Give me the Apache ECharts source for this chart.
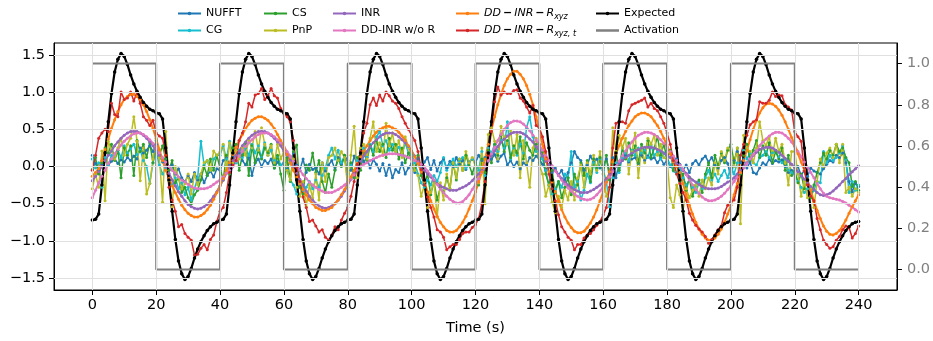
<!DOCTYPE html>
<html><head><meta charset="utf-8">
<script src="https://cdn.jsdelivr.net/npm/echarts@6/dist/echarts.min.js"></script>
<style>html,body{margin:0;padding:0;background:#fff}#c{width:933px;height:341px}</style>
</head><body><div id="c"></div><script>
// time axis: one sample per second, 0..240 s
const seconds = Array.from({length: 241}, (_, i) => i);
const xTicks = [0,20,40,60,80,100,120,140,160,180,200,220,240];
const leftTicks = [-1.5,-1.0,-0.5,0.0,0.5,1.0,1.5];
const rightTicks = [0.0,0.2,0.4,0.6,0.8,1.0];

const nufft = [
0.15,0.04,-0.05,0.03,0.08,0.02,0.07,0.10,0.04,0.09,
0.06,0.12,0.08,0.14,0.10,0.25,0.18,0.22,0.28,0.20,
0.30,0.15,0.06,0.10,-0.05,0.02,-0.10,-0.03,-0.15,-0.21,
-0.12,-0.20,-0.08,-0.18,-0.10,-0.22,-0.12,-0.06,-0.14,-0.03,
-0.05,0.08,0.12,0.02,0.15,0.05,0.18,0.08,0.02,0.12,
-0.12,0.05,0.10,0.00,0.08,0.04,0.10,-0.02,0.06,0.01,
0.05,-0.03,0.08,0.18,0.02,-0.05,0.10,-0.08,0.03,-0.04,
-0.02,-0.10,0.05,-0.06,0.02,0.08,-0.04,0.12,0.03,0.15,
0.08,-0.05,0.14,0.02,0.20,0.06,0.12,-0.02,0.09,0.03,
-0.06,0.04,-0.12,0.02,-0.15,-0.04,-0.08,0.05,-0.10,-0.02,
0.04,-0.08,0.10,-0.02,0.06,0.12,-0.04,0.08,-0.06,0.05,
0.10,-0.02,0.07,0.00,0.12,0.03,0.08,-0.04,0.06,0.10,
0.05,0.15,0.08,0.12,0.20,0.10,0.16,0.07,0.14,0.18,
0.02,0.08,0.00,0.06,-0.03,0.05,0.02,0.12,0.08,0.14,
0.10,0.03,-0.05,0.02,-0.08,-0.02,-0.12,-0.05,-0.18,-0.08,
0.05,0.20,0.12,0.08,-0.05,0.02,0.14,0.06,0.10,-0.02,
0.02,0.10,-0.08,0.12,-0.15,0.05,0.08,0.15,0.06,0.10,
0.12,0.04,0.15,0.08,0.14,0.10,0.12,0.05,0.11,0.03,
0.08,0.00,0.06,0.10,0.03,-0.05,0.02,-0.08,0.04,0.08,
0.02,0.10,0.14,0.06,0.12,0.02,-0.02,0.08,0.12,0.04,
-0.15,0.08,0.20,0.05,0.10,-0.02,0.06,-0.08,-0.10,-0.02,
0.05,0.02,0.10,0.04,0.08,0.06,0.09,0.00,-0.08,-0.05,
-0.10,0.00,-0.12,-0.05,-0.13,-0.02,-0.06,-0.08,-0.10,-0.03,
0.03,0.08,0.06,0.15,0.12,0.18,0.05,-0.20,-0.34,-0.22,-0.27];

const cg = [
0.10,-0.02,0.05,-0.28,0.12,0.02,0.15,0.10,0.22,0.12,
0.28,0.18,0.24,0.30,0.16,0.22,0.08,0.00,-0.23,0.05,
0.20,0.02,-0.10,-0.02,-0.18,-0.25,-0.15,-0.30,-0.22,-0.38,
-0.28,-0.45,-0.30,-0.15,0.34,0.02,0.08,-0.05,0.10,0.15,
0.15,0.28,0.10,0.34,0.18,0.05,0.22,0.12,0.25,0.15,
0.30,0.18,0.28,0.12,0.32,0.15,0.22,0.08,0.14,0.02,
0.05,-0.05,-0.18,-0.25,-0.37,-0.22,-0.32,-0.28,-0.20,-0.30,
-0.18,-0.28,-0.12,-0.02,0.15,0.25,0.10,0.22,0.05,0.12,
-0.10,0.02,-0.15,0.08,0.18,0.25,0.12,0.30,0.20,0.40,
0.47,0.28,0.35,0.22,0.30,0.20,0.26,0.15,0.32,0.18,
0.16,0.05,-0.10,-0.22,-0.28,-0.18,-0.25,-0.12,-0.20,-0.08,
0.12,-0.05,0.02,0.10,0.00,0.08,0.12,-0.02,0.05,0.10,
0.05,-0.05,0.20,-0.12,0.25,0.18,0.30,0.20,0.35,0.25,
0.60,0.10,0.25,0.15,0.30,0.18,0.52,0.67,0.40,0.20,
0.30,0.10,-0.05,-0.25,-0.37,-0.30,-0.20,-0.28,-0.10,-0.15,
0.20,-0.28,-0.20,-0.45,-0.32,-0.10,-0.22,0.05,-0.08,0.10,
-0.05,-0.20,-0.54,-0.15,0.05,-0.08,0.12,0.18,0.08,0.22,
0.15,0.25,0.18,0.22,0.12,0.28,0.15,0.20,0.10,0.18,
0.12,0.02,-0.06,-0.10,-0.02,-0.15,-0.25,-0.18,-0.28,-0.35,
-0.22,-0.30,-0.15,-0.05,-0.18,-0.10,-0.20,-0.12,-0.05,-0.15,
0.00,-0.10,0.05,0.15,0.22,0.10,0.18,0.05,0.02,0.12,
0.15,0.20,0.12,0.18,0.22,0.12,0.05,0.10,-0.05,-0.08,
-0.10,-0.20,-0.28,-0.35,-0.30,-0.40,-0.32,-0.20,-0.22,0.20,
0.05,0.15,0.08,0.12,0.18,0.28,0.10,-0.35,-0.20,-0.32,-0.25];

const cs = [
-0.04,0.12,-0.10,0.05,0.25,0.18,0.30,0.08,0.22,-0.15,
0.25,0.15,0.28,-0.12,0.35,0.20,0.30,0.12,0.32,0.05,
0.35,0.15,0.28,0.10,-0.05,0.08,-0.22,-0.15,-0.35,-0.28,
-0.42,-0.50,-0.38,-0.32,-0.18,0.00,-0.12,0.10,-0.05,0.15,
-0.02,-0.18,0.15,-0.10,0.25,0.30,-0.05,0.15,0.32,-0.12,
0.28,0.05,0.22,0.10,0.25,0.18,0.30,-0.02,0.15,-0.10,
-0.32,0.12,-0.20,0.20,0.29,-0.28,-0.37,0.02,-0.05,0.18,
-0.08,0.08,-0.20,-0.35,-0.10,-0.28,-0.05,0.10,0.00,0.15,
-0.20,0.05,-0.15,0.12,-0.05,0.20,0.08,0.28,0.15,0.35,
0.20,0.30,0.12,0.38,0.22,0.30,0.10,0.25,0.05,0.18,
0.10,-0.05,0.15,-0.12,-0.25,-0.10,-0.38,-0.20,-0.45,-0.28,
-0.35,-0.15,-0.30,0.05,-0.18,0.10,-0.05,0.15,0.02,-0.10,
0.05,-0.25,0.10,-0.08,0.22,0.05,0.30,0.15,0.42,0.20,
0.35,0.12,0.28,0.18,0.40,0.10,0.32,0.22,0.15,0.30,
0.05,0.20,-0.10,-0.25,-0.05,-0.35,-0.20,-0.42,-0.28,-0.15,
-0.38,-0.10,-0.25,0.05,-0.12,0.08,-0.20,0.10,-0.02,0.12,
-0.10,0.15,-0.18,0.05,0.20,-0.05,0.25,0.10,0.32,0.15,
0.28,0.05,0.30,0.18,0.35,0.12,0.25,0.40,0.15,0.30,
0.10,0.22,-0.05,0.08,-0.20,-0.10,-0.32,-0.15,-0.40,-0.25,
-0.18,-0.35,-0.10,0.05,-0.15,0.15,0.00,0.18,0.05,0.22,
0.30,0.05,0.25,-0.10,0.15,0.30,0.08,0.22,0.35,0.12,
0.28,0.15,0.32,0.05,0.20,0.10,0.25,-0.05,0.15,-0.12,
-0.05,-0.22,-0.10,-0.30,-0.18,-0.42,-0.25,-0.08,0.05,0.18,
0.10,0.22,0.15,0.30,0.20,0.25,0.12,0.05,-0.27,-0.20,-0.32];

const pnp = [
-0.30,-0.10,-0.28,0.21,-0.46,0.34,0.21,0.10,0.25,0.38,
0.15,0.30,0.38,0.67,0.34,-0.19,0.25,-0.37,-0.23,0.10,
0.38,0.12,-0.48,0.47,-0.19,-0.54,0.00,-0.15,-0.30,-0.23,
-0.10,-0.37,-0.10,-0.25,-0.10,0.05,0.08,-0.05,0.21,0.15,
0.20,0.30,-0.05,0.32,0.05,0.22,0.10,0.26,0.15,0.35,
0.25,0.47,0.22,0.52,0.30,0.15,0.28,0.05,0.30,0.10,
0.20,-0.05,-0.18,0.10,-0.28,-0.40,-0.20,-0.54,-0.25,-0.42,
-0.10,-0.45,0.05,-0.20,0.12,0.15,0.25,0.08,0.20,0.12,
-0.28,0.15,0.54,-0.15,0.25,0.30,0.10,0.38,0.60,0.20,
0.32,0.15,0.58,0.28,0.45,0.20,0.35,0.12,0.40,0.25,
0.10,-0.05,-0.12,-0.40,-0.25,-0.55,-0.35,-0.20,-0.68,-0.22,
-0.45,-0.10,-0.30,0.05,-0.15,0.10,-0.05,0.20,0.05,0.12,
0.00,-0.22,0.25,-0.50,0.43,0.52,0.34,0.10,0.54,0.40,
0.30,0.48,0.15,0.43,-0.15,0.35,0.05,-0.28,0.25,0.38,
0.02,-0.10,-0.40,-0.25,-0.48,-0.62,-0.40,-0.55,-0.32,-0.45,
-0.20,-0.45,-0.15,0.02,-0.28,0.05,-0.10,0.15,-0.05,0.20,
-0.10,-0.40,-0.28,0.52,0.20,0.42,0.25,0.38,-0.10,0.20,
0.45,-0.15,0.25,0.05,0.38,0.30,0.42,0.15,0.30,0.12,
0.10,-0.42,-0.55,-0.25,-0.38,-0.60,-0.30,-0.42,-0.32,-0.25,
-0.40,-0.18,-0.30,-0.15,-0.25,0.05,-0.10,0.20,0.08,0.25,
0.20,0.00,0.25,-0.77,0.42,0.25,0.20,0.05,0.25,0.60,
0.35,0.28,0.40,0.15,0.38,0.20,0.30,0.05,-0.25,0.20,
0.20,-0.10,-0.40,-0.20,-0.42,-0.30,-0.55,-0.20,0.10,0.00,
0.18,0.25,0.12,0.30,0.05,0.30,-0.35,-0.28,-0.40,-0.30,-0.35];

const inr = [
-0.19,-0.13,-0.07,
0.00,0.08,0.15,0.21,0.28,0.33,0.38,0.42,0.45,0.47,0.47,0.47,0.45,0.42,0.38,0.33,0.28,0.21,0.15,0.08,
0.00,-0.09,-0.18,-0.26,-0.34,-0.40,-0.46,-0.51,-0.54,-0.56,-0.57,-0.56,-0.54,-0.51,-0.46,-0.40,-0.34,-0.26,-0.18,-0.09,
0.00,0.08,0.15,0.21,0.28,0.33,0.38,0.42,0.45,0.47,0.47,0.47,0.45,0.42,0.38,0.33,0.28,0.21,0.15,0.08,
0.00,-0.09,-0.17,-0.25,-0.33,-0.40,-0.45,-0.50,-0.53,-0.55,-0.56,-0.55,-0.53,-0.50,-0.45,-0.40,-0.33,-0.25,-0.17,-0.09,
0.00,0.07,0.14,0.20,0.27,0.32,0.36,0.40,0.43,0.45,0.45,0.45,0.43,0.40,0.36,0.32,0.27,0.20,0.14,0.07,
0.00,-0.05,-0.10,-0.14,-0.19,-0.23,-0.26,-0.28,-0.30,-0.32,-0.32,-0.32,-0.30,-0.28,-0.26,-0.23,-0.19,-0.14,-0.10,-0.05,
0.00,0.07,0.14,0.21,0.27,0.33,0.37,0.41,0.44,0.46,0.46,0.46,0.44,0.41,0.37,0.33,0.27,0.21,0.14,0.07,
0.02,
0.00,-0.05,-0.11,-0.16,-0.21,-0.25,-0.28,-0.31,-0.33,-0.35,-0.35,-0.35,-0.33,-0.31,-0.28,-0.25,-0.21,-0.16,-0.11,-0.05,
0.00,0.04,0.08,0.12,0.15,0.18,0.21,0.23,0.25,0.26,0.26,0.26,0.25,0.23,0.21,0.18,0.15,0.12,0.08,0.04,
0.00,-0.05,-0.09,-0.14,-0.18,-0.21,-0.24,-0.27,-0.29,-0.30,-0.30,-0.30,-0.29,-0.27,-0.24,-0.21,
-0.19,-0.15,-0.10,-0.05,0.00,0.05,0.10,0.15,0.19,0.23,0.25,0.26,0.26,0.25,0.22,0.19,0.15,0.11,0.07,0.03,
-0.02,-0.07,-0.12,-0.17,-0.22,-0.27,-0.31,-0.35,-0.38,-0.39,-0.38,-0.36,-0.33,-0.29,-0.25,-0.20,-0.16,-0.11,-0.07,-0.03,0.01];

const ddinrNoR = [
-0.42,-0.32,-0.22,-0.13,-0.05,
0.04,0.10,0.17,0.23,0.29,0.34,0.38,0.41,0.44,0.45,0.45,0.43,0.40,0.36,0.31,0.25,0.18,0.12,0.06,
0.00,-0.05,-0.09,-0.14,-0.18,-0.21,-0.24,-0.27,-0.29,-0.30,-0.30,-0.30,-0.29,-0.27,-0.24,-0.21,-0.18,-0.14,-0.09,-0.05,
0.00,0.07,0.14,0.20,0.27,0.32,0.36,0.40,0.43,0.45,0.45,0.45,0.43,0.40,0.36,0.32,0.27,0.20,0.14,0.07,
0.00,-0.05,-0.11,-0.16,-0.21,-0.25,-0.28,-0.31,-0.33,-0.35,-0.35,-0.35,-0.33,-0.31,-0.28,-0.25,-0.21,-0.16,-0.11,-0.05,
0.00,0.03,0.05,0.08,0.10,0.12,0.14,0.15,0.16,0.17,0.17,0.17,0.16,0.15,0.14,0.12,0.10,0.08,0.05,0.03,
0.00,-0.06,-0.12,-0.18,-0.24,-0.30,-0.35,-0.40,-0.44,-0.47,-0.49,-0.49,-0.47,-0.43,-0.38,-0.31,-0.24,-0.16,-0.08,0.00,
0.08,0.17,0.26,0.35,0.43,0.50,0.55,0.59,0.61,0.61,0.60,0.57,0.53,0.48,0.42,0.36,0.29,0.22,0.15,0.08,0.01,
-0.06,-0.12,-0.18,-0.24,-0.29,-0.33,-0.37,-0.40,-0.43,-0.44,
-0.45,-0.44,-0.42,-0.38,-0.33,-0.27,-0.21,-0.14,-0.07,0.00,
0.07,0.14,0.21,0.27,0.33,0.38,0.42,0.44,0.46,0.46,
0.45,0.43,0.40,0.36,0.31,0.26,0.20,0.14,0.08,0.02,
-0.04,-0.11,-0.18,-0.25,-0.31,-0.36,-0.41,-0.44,-0.46,-0.46,
-0.45,-0.43,-0.40,-0.36,-0.31,-0.26,-0.20,-0.14,-0.08,-0.02,
0.04,0.10,0.16,0.22,0.28,0.33,0.37,0.41,0.44,0.46,
0.46,0.45,0.42,0.38,0.33,0.27,0.20,0.13,0.06,-0.01,-0.08,-0.15,-0.23,-0.30,-0.36,-0.40,-0.42,-0.43,-0.44,-0.45,-0.47,-0.49,-0.52,-0.55,-0.58,-0.61];

const ddinrRxyz = [
-0.13,-0.08,-0.03,
0.08,0.23,0.37,0.51,0.63,0.74,0.83,0.90,0.94,0.97,0.97,0.94,0.90,0.83,0.74,0.63,0.51,0.37,0.23,0.08,
-0.05,-0.16,-0.26,-0.35,-0.44,-0.52,-0.58,-0.63,-0.66,-0.68,-0.68,-0.66,-0.63,-0.58,-0.52,-0.44,-0.35,-0.26,-0.16,-0.05,
0.05,0.16,0.26,0.35,0.43,0.51,0.57,0.62,0.65,0.67,0.67,0.65,0.62,0.57,0.51,0.43,0.35,0.26,0.16,0.05,
-0.05,-0.14,-0.23,-0.31,-0.38,-0.45,-0.50,-0.55,-0.57,-0.59,-0.59,-0.57,-0.55,-0.50,-0.45,-0.38,-0.31,-0.23,-0.14,-0.05,
0.04,0.13,0.21,0.28,0.35,0.41,0.46,0.50,0.52,0.54,0.54,0.52,0.50,0.46,0.41,0.35,0.28,0.21,0.13,0.04,
-0.07,-0.21,-0.34,-0.46,-0.57,-0.67,-0.75,-0.81,-0.86,-0.88,-0.88,-0.86,-0.81,-0.75,-0.67,-0.57,-0.46,-0.34,-0.21,-0.07,
0.10,0.30,0.49,0.67,0.83,0.97,1.09,1.18,1.24,1.28,1.28,1.24,1.18,1.09,0.97,0.83,0.67,0.49,0.30,0.10,
-0.07,-0.21,-0.34,-0.46,-0.58,-0.68,-0.76,-0.82,-0.87,-0.89,-0.89,-0.87,-0.82,-0.76,-0.68,-0.58,-0.46,-0.34,-0.21,-0.07,
0.06,0.17,0.28,0.38,0.47,0.55,0.61,0.67,0.70,0.72,0.72,0.70,0.67,0.61,0.55,0.47,0.38,0.28,0.17,0.06,
0.00,-0.08,-0.23,-0.38,-0.52,-0.64,-0.75,-0.84,-0.91,-0.96,-0.99,-0.99,-0.96,-0.91,-0.84,-0.75,-0.64,-0.52,-0.38,-0.23,-0.08,
0.08,0.22,0.36,0.50,0.62,0.72,0.79,0.84,0.85,0.84,0.81,0.76,0.69,0.60,0.50,0.39,0.28,0.17,0.06,
-0.05,-0.18,-0.32,-0.46,-0.59,-0.70,-0.80,-0.87,-0.91,-0.92,-0.90,-0.86,-0.80,-0.72,-0.63,-0.54,-0.46,-0.38];

const ddinrRxyzt = [
-0.05,0.15,0.38,0.45,0.50,0.47,0.85,0.70,0.67,1.00,
0.90,0.92,1.00,0.88,1.00,0.85,0.67,0.62,0.55,0.62,
0.45,0.41,0.38,0.15,-0.28,-0.45,-0.60,-0.81,-0.78,-0.90,
-0.95,-0.99,-1.19,-1.18,-1.10,-1.05,-1.12,-0.98,-0.92,-0.74,
-0.60,-0.55,-0.35,-0.08,0.02,0.08,0.35,0.45,0.60,0.85,
0.80,0.96,0.98,1.05,0.90,0.95,1.05,0.95,0.92,0.78,
0.72,0.67,0.60,0.35,-0.01,-0.20,-0.41,-0.55,-0.74,-0.72,
-0.80,-0.88,-0.85,-0.95,-0.99,-0.92,-0.81,-0.85,-0.72,-0.63,
-0.55,-0.40,-0.20,0.03,0.20,0.45,0.58,0.83,0.92,0.82,
0.96,0.88,1.00,0.95,0.88,0.85,0.78,0.67,0.58,0.50,
0.42,0.35,0.20,-0.04,-0.25,-0.41,-0.55,-0.68,-0.85,-0.88,
-0.95,-1.12,-1.08,-1.05,-1.05,-0.98,-0.90,-0.88,-0.88,-0.82,
-0.78,-0.70,-0.50,-0.20,0.15,0.47,0.87,1.07,0.96,1.00,
0.98,0.98,1.02,1.03,0.92,0.88,0.80,0.72,0.82,0.55,
0.52,0.40,0.20,-0.10,-0.30,-0.46,-0.65,-0.81,-0.88,-0.95,
-0.99,-1.12,-1.05,-1.05,-0.96,-0.92,-0.90,-0.85,-0.79,-0.74,
-0.65,-0.55,-0.28,0.25,0.58,0.60,0.60,0.58,0.75,0.83,
0.85,0.87,0.89,0.92,0.80,0.85,0.78,0.75,0.67,0.58,
0.45,0.30,0.08,-0.10,-0.23,-0.35,-0.45,-0.63,-0.72,-0.79,
-0.84,-0.88,-0.94,-1.03,-0.98,-0.92,-0.85,-0.80,-0.62,-0.52,
-0.47,-0.45,-0.28,0.15,0.30,0.42,0.56,0.60,0.63,0.87,
0.85,0.85,0.89,1.00,0.94,0.96,0.95,0.83,0.80,0.76,
0.47,0.40,0.34,-0.06,-0.25,-0.40,-0.46,-0.70,-0.85,-0.99,
-1.05,-1.10,-1.08,-0.99,-0.94,-0.85,-0.80,-0.82,-0.96,-0.90,-0.80];

const expected = [
-0.72,-0.71,-0.64,-0.25,0.18,0.60,0.98,1.27,1.44,1.52,1.48,1.37,1.23,1.11,1.01,0.93,0.86,0.81,0.77,0.75,
0.72,0.71,0.64,0.25,-0.18,-0.60,-0.98,-1.27,-1.44,-1.52,-1.48,-1.37,-1.23,-1.11,-1.01,-0.93,-0.86,-0.81,-0.77,-0.75,
-0.72,-0.71,-0.64,-0.25,0.18,0.60,0.98,1.27,1.44,1.52,1.48,1.37,1.23,1.11,1.01,0.93,0.86,0.81,0.77,0.75,
0.72,0.71,0.64,0.25,-0.18,-0.60,-0.98,-1.27,-1.44,-1.52,-1.48,-1.37,-1.23,-1.11,-1.01,-0.93,-0.86,-0.81,-0.77,-0.75,
-0.72,-0.71,-0.64,-0.25,0.18,0.60,0.98,1.27,1.44,1.52,1.48,1.37,1.23,1.11,1.01,0.93,0.86,0.81,0.77,0.75,
0.72,0.71,0.64,0.25,-0.18,-0.60,-0.98,-1.27,-1.44,-1.52,-1.48,-1.37,-1.23,-1.11,-1.01,-0.93,-0.86,-0.81,-0.77,-0.75,
-0.72,-0.71,-0.64,-0.25,0.18,0.60,0.98,1.27,1.44,1.52,1.48,1.37,1.23,1.11,1.01,0.93,0.86,0.81,0.77,0.75,
0.72,0.71,0.64,0.25,-0.18,-0.60,-0.98,-1.27,-1.44,-1.52,-1.48,-1.37,-1.23,-1.11,-1.01,-0.93,-0.86,-0.81,-0.77,-0.75,
-0.72,-0.71,-0.64,-0.25,0.18,0.60,0.98,1.27,1.44,1.52,1.48,1.37,1.23,1.11,1.01,0.93,0.86,0.81,0.77,0.75,
0.72,0.71,0.64,0.25,-0.18,-0.60,-0.98,-1.27,-1.44,-1.52,-1.48,-1.37,-1.23,-1.11,-1.01,-0.93,-0.86,-0.81,-0.77,-0.75,
-0.72,-0.71,-0.64,-0.25,0.18,0.60,0.98,1.27,1.44,1.52,1.48,1.37,1.23,1.11,1.01,0.93,0.86,0.81,0.77,0.75,
0.72,0.71,0.64,0.25,-0.18,-0.60,-0.98,-1.27,-1.44,-1.52,-1.48,-1.37,-1.23,-1.11,-1.01,-0.93,-0.86,-0.81,-0.77,-0.75,
-0.74];

// activation block design (on/off every 20 s), drawn as steps
const activationTimes = [0,20,40,60,80,100,120,140,160,180,200,220,240];
const activationValues = [1,0,1,0,1,0,1,0,1,0,1,0,0];

const N_RXYZ = 'DD-INR-Rxyz';
const N_RXYZT = 'DD-INR-Rxyzt';

function pairs(vals){ return vals.map((v,i)=>[seconds[i], v]); }
const FONT = 'DejaVu Sans';
function fmtNum(v){ const a = Math.abs(v).toFixed(1); return (v < 0 ? '\u2212' : '') + a; }

function lineSeries(name, color, vals, extra){
  return Object.assign({
    name, type: 'line', data: pairs(vals), xAxisIndex: 0, yAxisIndex: 0,
    symbol: 'circle', symbolSize: 3, showSymbol: true,
    lineStyle: {color, width: 1.5}, itemStyle: {color},
    emphasis: {disabled: true}, animation: false, clip: true, z: 2
  }, extra || {});
}

const legendCommon = {
  orient: 'vertical', top: 6, itemWidth: 23, itemHeight: 4.5, itemGap: 2, padding: 0,
  selectedMode: false,
  lineStyle: {width: 2},
  textStyle: {fontFamily: FONT, fontSize: 11, color: '#000', lineHeight: 15,
    rich: {
      i: {fontFamily: FONT, fontStyle: 'italic', fontSize: 11, lineHeight: 15},
      m: {fontFamily: FONT, fontSize: 11, fontWeight: 'bold', lineHeight: 15, padding: [0,2,0,2]},
      s: {fontFamily: FONT, fontStyle: 'italic', fontSize: 8, lineHeight: 15, padding: [6,0,0,0]}
    }
  },
  formatter: function(name){
    if (name === N_RXYZ) return '{i|DD}{m|\u2212}{i|INR}{m|\u2212}{i|R}{s|xyz}';
    if (name === N_RXYZT) return '{i|DD}{m|\u2212}{i|INR}{m|\u2212}{i|R}{s|xyz, t}';
    return name;
  }
};

const gridLineData = xTicks.map(x => ({xAxis: x})).concat(leftTicks.map(y => ({yAxis: y})));

const chart = echarts.init(document.getElementById('c'), null, {renderer: 'canvas'});
chart.setOption({
  animation: false,
  backgroundColor: '#fff',
  textStyle: {fontFamily: FONT},
  grid: {left: 54, right: 35, top: 43, bottom: 48, show: true, borderColor: '#000', borderWidth: 1, backgroundColor: 'transparent'},
  legend: [
    Object.assign({}, legendCommon, {left: 177, data: ['NUFFT','CG']}),
    Object.assign({}, legendCommon, {left: 263, data: ['CS','PnP']}),
    Object.assign({}, legendCommon, {left: 332, data: ['INR','DD-INR w/o R']}),
    Object.assign({}, legendCommon, {left: 455, data: [N_RXYZ, N_RXYZT]}),
    Object.assign({}, legendCommon, {left: 595, data: ['Expected', {name: 'Activation', icon: 'path://M0,0h24v2.6h-24z'}]})
  ],
  xAxis: [{
    type: 'value', min: -12, max: 252,
    name: 'Time (s)', nameLocation: 'middle', nameGap: 31,
    nameTextStyle: {fontFamily: FONT, fontSize: 14.5, color: '#000'},
    axisLine: {show: true, onZero: false, lineStyle: {color: '#000', width: 1}},
    axisTick: {show: true, inside: false, length: 5, customValues: xTicks, lineStyle: {color: '#000'}},
    axisLabel: {customValues: xTicks, margin: 8, fontFamily: FONT, fontSize: 14.5, color: '#000', formatter: v => String(v)},
    splitLine: {show: false}
  }],
  yAxis: [{
    type: 'value', min: -1.66, max: 1.66, position: 'left',
    axisLine: {show: true, onZero: false, lineStyle: {color: '#000'}},
    axisTick: {show: true, length: 5, customValues: leftTicks, lineStyle: {color: '#000'}},
    axisLabel: {customValues: leftTicks, margin: 9, fontFamily: FONT, fontSize: 14.5, color: '#000', formatter: fmtNum},
    splitLine: {show: false}
  }, {
    type: 'value', min: -0.1, max: 1.1, position: 'right',
    axisLine: {show: true, onZero: false, lineStyle: {color: '#000'}},
    axisTick: {show: true, length: 5, customValues: rightTicks, lineStyle: {color: '#000'}},
    axisLabel: {customValues: rightTicks, margin: 10, fontFamily: FONT, fontSize: 14.5, color: '#808080', formatter: v => v.toFixed(1)},
    splitLine: {show: false}
  }],
  series: [
    {
      name: '__grid', type: 'line', data: [], z: 1, silent: true,
      markLine: {silent: true, symbol: ['none','none'], label: {show: false}, animation: false,
        lineStyle: {color: '#e0e0e0', width: 1, type: 'solid'}, emphasis: {disabled: true},
        data: gridLineData}
    },
    lineSeries('NUFFT', '#1f77b4', nufft),
    lineSeries('CG', '#17becf', cg),
    lineSeries('CS', '#2ca02c', cs),
    lineSeries('PnP', '#bcbd22', pnp),
    lineSeries('INR', '#9467bd', inr, {lineStyle: {color: '#9467bd', width: 2}}),
    lineSeries('DD-INR w/o R', '#e377c2', ddinrNoR, {lineStyle: {color: '#e377c2', width: 2}}),
    lineSeries(N_RXYZ, '#ff7f0e', ddinrRxyz, {lineStyle: {color: '#ff7f0e', width: 2}}),
    lineSeries(N_RXYZT, '#d62728', ddinrRxyzt),
    lineSeries('Expected', '#000000', expected, {symbolSize: 3.5, lineStyle: {color: '#000', width: 2.2}}),
    {
      name: 'Activation', type: 'line', yAxisIndex: 1, step: 'end', z: 3,
      data: activationTimes.map((t, i) => [t, activationValues[i]]),
      symbol: 'none', showSymbol: false,
      lineStyle: {color: '#808080', width: 2}, itemStyle: {color: '#808080'},
      emphasis: {disabled: true}
    }
  ]
});
</script></body></html>
